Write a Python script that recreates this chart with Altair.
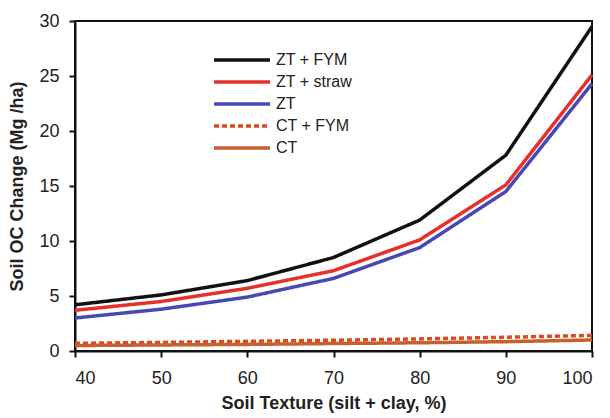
import altair as alt
import pandas as pd

texture = [40, 50, 60, 70, 80, 90, 100]
zt_fym = [4.2, 5.1, 6.4, 8.5, 11.9, 17.8, 29.5]
zt_straw = [3.7, 4.5, 5.7, 7.3, 10.1, 15.1, 25.1]
zt = [3.0, 3.8, 4.9, 6.6, 9.4, 14.5, 24.3]
ct_fym = [0.7, 0.78, 0.88, 0.98, 1.1, 1.25, 1.42]
ct = [0.5, 0.55, 0.6, 0.68, 0.75, 0.85, 1.0]

series = ["ZT + FYM", "ZT + straw", "ZT", "CT + FYM", "CT"]
values = [zt_fym, zt_straw, zt, ct_fym, ct]
colors = ["#111111", "#e8302a", "#4747b5", "#e2461e", "#c6602e"]
dashes = [[1, 0], [1, 0], [1, 0], [5, 3], [1, 0]]
widths = [3.5, 3.5, 3.5, 2.2, 2]

rows = []
for name, vals in zip(series, values):
    for x, v in zip(texture, vals):
        rows.append({"Texture": x, "Change": v, "Series": name})
df = pd.DataFrame(rows)

font = "Liberation Sans"
leg = alt.Legend(
    title=None, orient="none", legendX=137, legendY=30,
    symbolType="M-1,0H7", symbolSize=196, labelFont=font, labelFontSize=16,
    labelColor="#222222", rowPadding=5, labelOffset=46, symbolOffset=0,
    symbolFillColor="transparent",
)

chart = alt.Chart(df).mark_line().encode(
    x=alt.X("Texture:Q", scale=alt.Scale(domain=[40, 100], nice=False),
            axis=alt.Axis(values=texture, title="Soil Texture (silt + clay, %)")),
    y=alt.Y("Change:Q", scale=alt.Scale(domain=[0, 30], nice=False),
            axis=alt.Axis(values=[0, 5, 10, 15, 20, 25, 30], title="Soil OC Change (Mg /ha)")),
    color=alt.Color("Series:N", sort=series, scale=alt.Scale(domain=series, range=colors), legend=leg),
    strokeDash=alt.StrokeDash("Series:N", sort=series, scale=alt.Scale(domain=series, range=dashes), legend=leg),
    strokeWidth=alt.StrokeWidth("Series:N", sort=series, scale=alt.Scale(domain=series, range=widths), legend=leg),
    order=alt.Order("Texture:Q"),
).properties(
    width=517, height=330,
    autosize=alt.AutoSizeParams(type="none"),
    padding={"left": 75, "top": 21, "right": 18, "bottom": 67},
).configure_view(
    stroke="#111111", strokeWidth=2
).configure_axis(
    grid=False, domainColor="#111111", domainWidth=2, tickColor="#111111", tickWidth=2,
    tickSize=6, labelFont=font, labelFontSize=18, labelColor="#222222",
    titleFont=font, titleFontSize=18, titleFontWeight="bold", titleColor="#222222",
).configure_axisX(
    labelPadding=12, titlePadding=7
).configure_axisY(
    labelPadding=10, titlePadding=12
)

chart.save("out.html", embed_options={"renderer": "svg", "actions": False})
